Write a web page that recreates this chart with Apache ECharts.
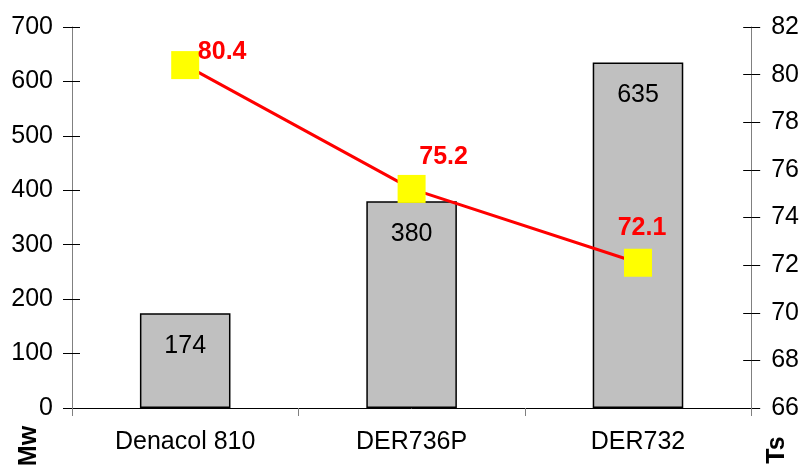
<!DOCTYPE html>
<html>
<head>
<meta charset="utf-8">
<script src="https://cdn.jsdelivr.net/npm/echarts@6/dist/echarts.min.js"></script>
<style>
  html, body { margin: 0; padding: 0; background: #fff; }
  #chart { width: 802px; height: 466px; }
</style>
</head>
<body>
<div id="chart"></div>
<script>
// Resin names and their measured values
const categories = ['Denacol 810', 'DER736P', 'DER732'];
const mwValues = [174, 380, 635];
const tsValues = [80.4, 75.2, 72.1];

// Left (Mw) and right (Ts) axis ranges
const mwAxis = { min: 0, max: 700, interval: 100 };
const tsAxis = { min: 66, max: 82, interval: 2 };

// Hand-placed offsets of the Ts value labels relative to each marker
const tsLabelOffsets = [[37, -13], [32, -32], [4, -35]];

const FONT = '"Liberation Sans", Arial, sans-serif';
const FS = 25;

const chart = echarts.init(document.getElementById('chart'), null, { renderer: 'canvas' });

function tickAxis(range, position, inside) {
  return Object.assign({
    type: 'value',
    position: position,
    axisLine: { show: false },
    axisTick: { show: true, inside: inside, length: inside ? 8 : 9, lineStyle: { color: '#000', width: 1 } },
    axisLabel: { show: false },
    splitLine: { show: false }
  }, range);
}

chart.setOption({
  backgroundColor: '#fff',
  animation: false,
  grid: { left: 72, right: 50, top: 27, bottom: 58 },
  xAxis: {
    type: 'category',
    data: categories,
    axisLine: { lineStyle: { color: '#000', width: 1 } },
    axisTick: { show: true, length: 8, lineStyle: { color: '#808080' } },
    axisLabel: { color: '#000', fontFamily: FONT, fontSize: FS, margin: 22 }
  },
  yAxis: [
    Object.assign({
      type: 'value',
      position: 'left',
      axisLine: { show: true, lineStyle: { color: '#808080', width: 1 } },
      axisTick: { show: true, length: 9, lineStyle: { color: '#000', width: 1 } },
      axisLabel: { color: '#000', fontFamily: FONT, fontSize: FS, margin: 19 },
      splitLine: { show: false }
    }, mwAxis),
    Object.assign({
      type: 'value',
      position: 'right',
      axisLine: { show: true, lineStyle: { color: '#808080', width: 1 } },
      axisTick: { show: true, length: 9, lineStyle: { color: '#000', width: 1 } },
      axisLabel: { color: '#000', fontFamily: FONT, fontSize: FS, margin: 20 },
      splitLine: { show: false }
    }, tsAxis),
    // inner halves of the crossing tick marks
    tickAxis(mwAxis, 'left', true),
    tickAxis(tsAxis, 'right', true)
  ],
  graphic: [
    {
      type: 'text', x: 29, y: 446, rotation: Math.PI / 2,
      style: { text: 'Mw', font: 'bold ' + FS + 'px ' + FONT, fill: '#000', textAlign: 'center', textVerticalAlign: 'middle' }
    },
    {
      type: 'text', x: 777, y: 450, rotation: Math.PI / 2,
      style: { text: 'Ts', font: 'bold ' + FS + 'px ' + FONT, fill: '#000', textAlign: 'center', textVerticalAlign: 'middle' }
    }
  ],
  series: [
    {
      name: 'Mw',
      type: 'bar',
      yAxisIndex: 0,
      data: mwValues,
      barWidth: '40%',
      itemStyle: { color: '#C0C0C0', borderColor: '#000', borderWidth: 1.5 },
      label: {
        show: true,
        position: 'insideTop',
        distance: 20,
        color: '#000',
        fontFamily: FONT,
        fontSize: FS
      },
      z: 2
    },
    {
      name: 'Ts',
      type: 'line',
      yAxisIndex: 1,
      data: tsValues.map((v, i) => ({
        value: v,
        label: { offset: tsLabelOffsets[i] }
      })),
      symbol: 'rect',
      symbolSize: 28,
      showAllSymbol: true,
      lineStyle: { color: '#FF0000', width: 3 },
      itemStyle: { color: '#FFFF00', borderWidth: 0 },
      label: {
        show: true,
        position: 'inside',
        color: '#FF0000',
        fontFamily: FONT,
        fontWeight: 'bold',
        fontSize: FS
      },
      z: 5
    }
  ]
});
</script>
</body>
</html>
